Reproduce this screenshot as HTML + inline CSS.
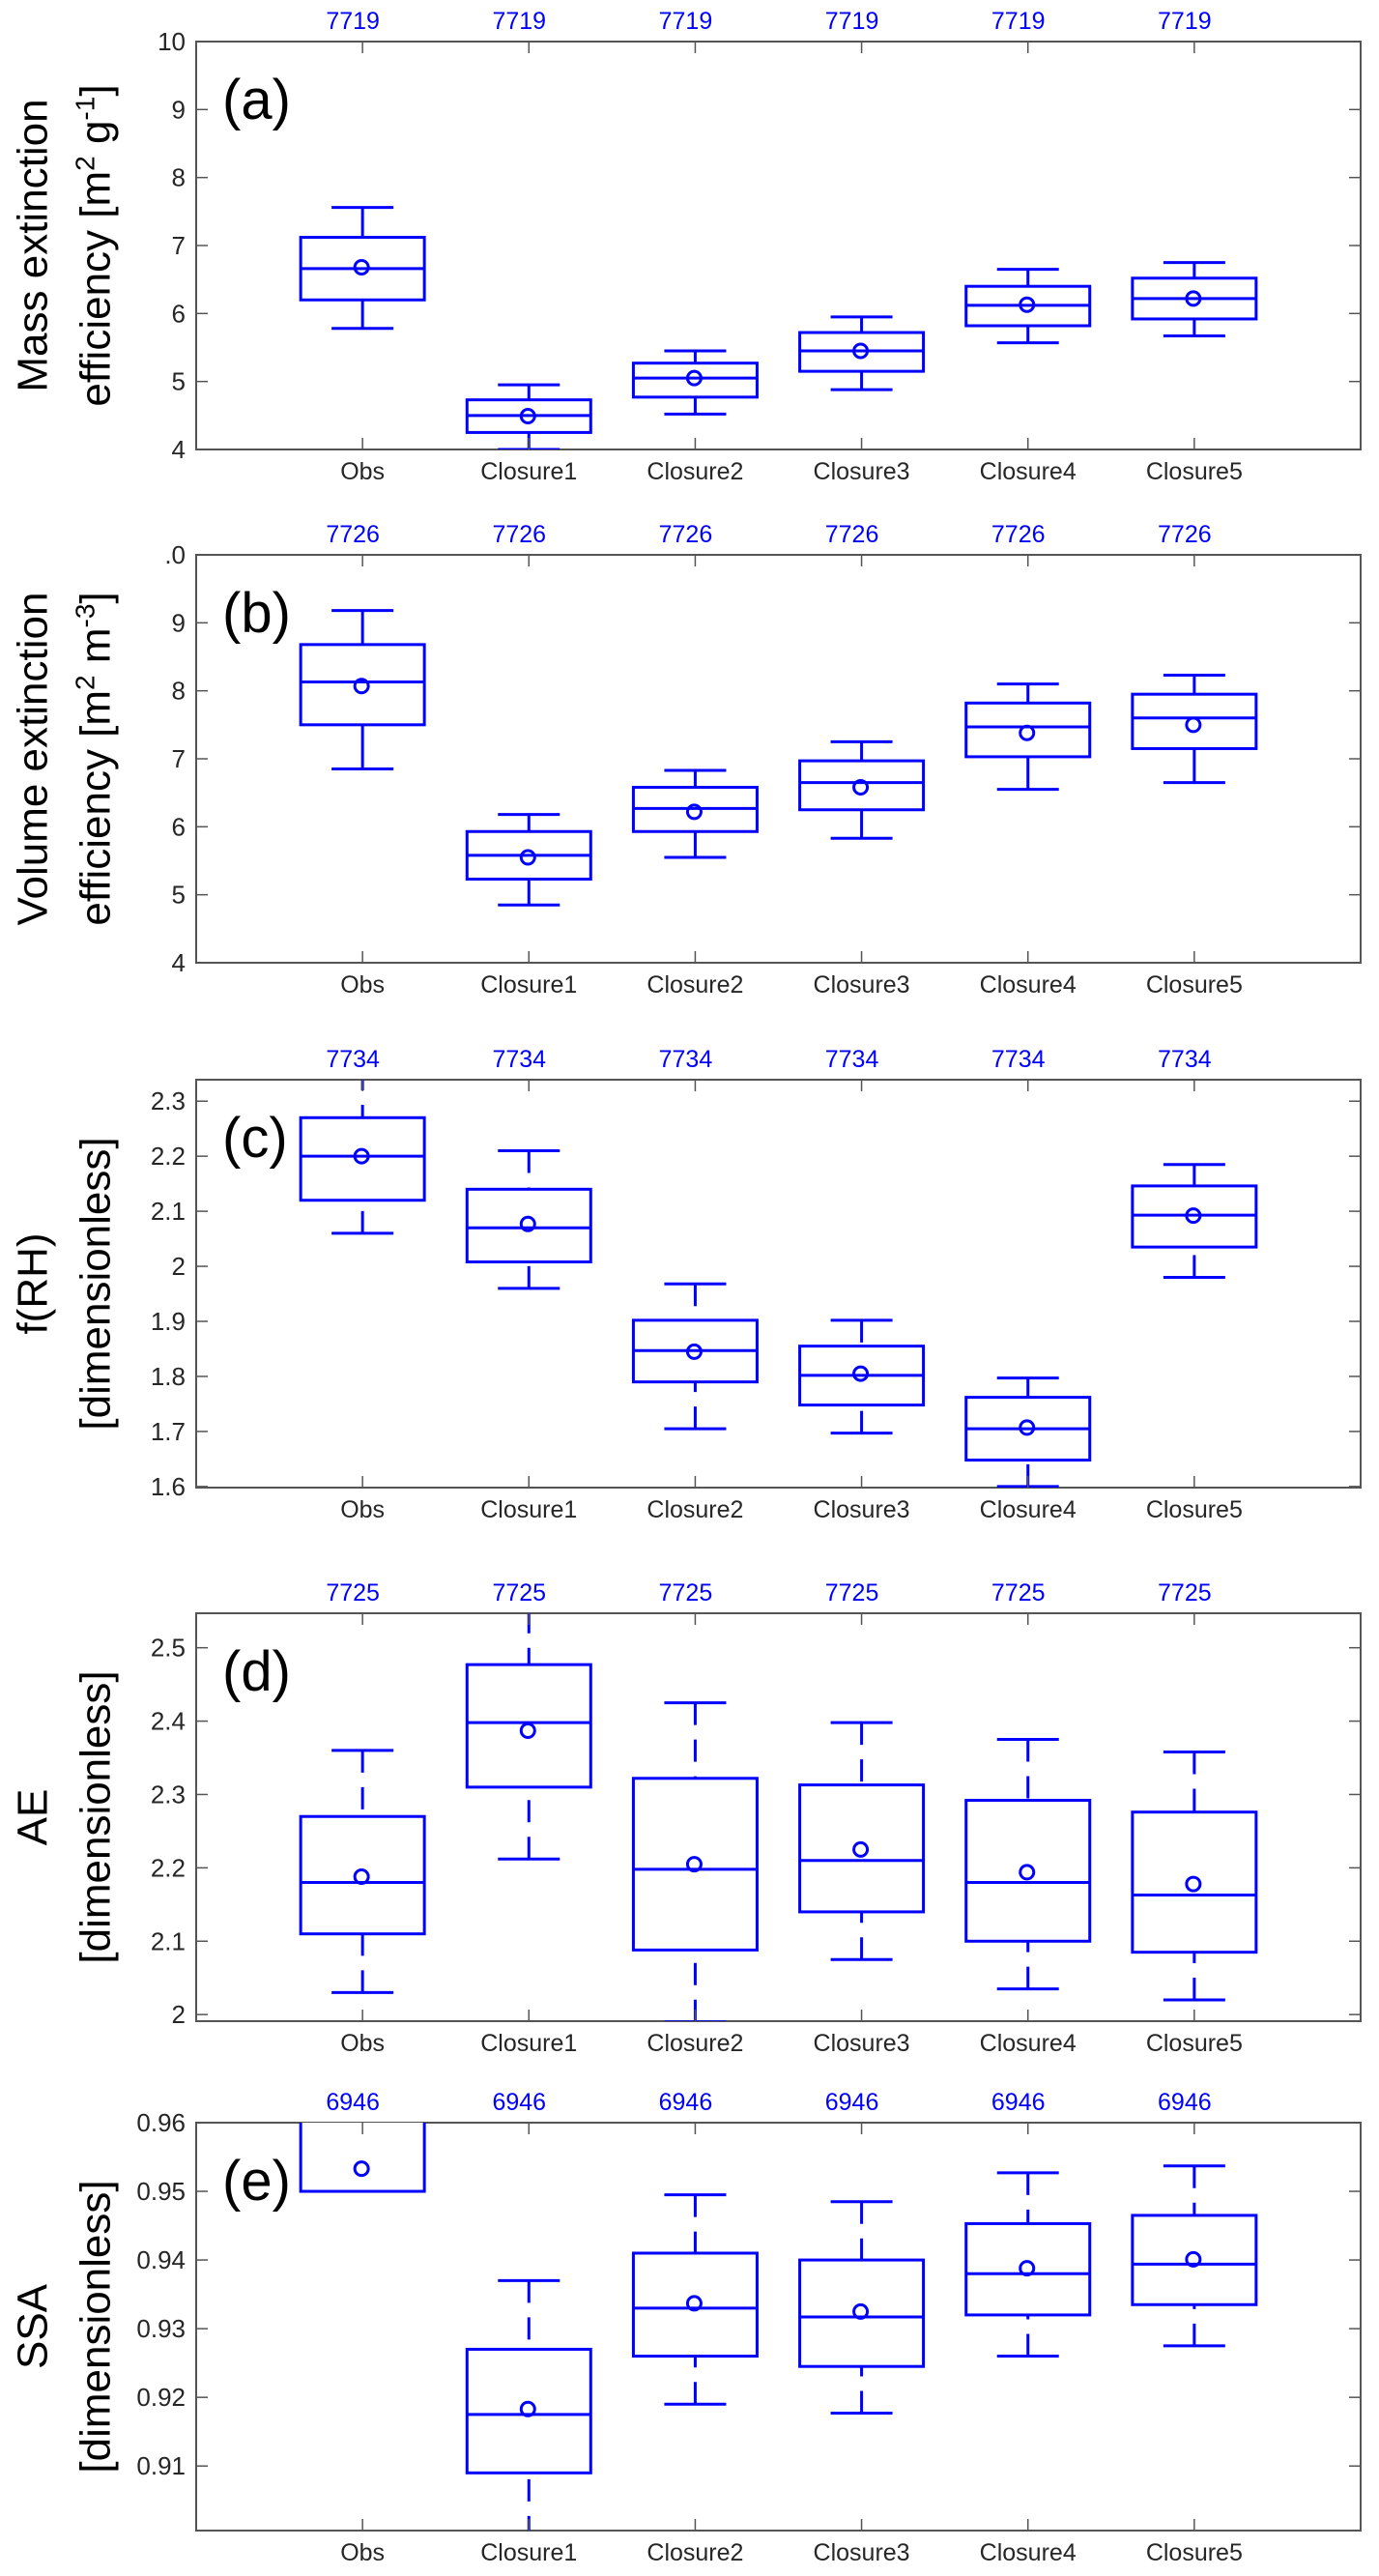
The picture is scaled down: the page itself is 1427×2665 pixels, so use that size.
<!DOCTYPE html>
<html><head><meta charset="utf-8">
<style>
html,body{margin:0;padding:0;background:#fff;}
svg{display:block;}
text{font-family:"Liberation Sans","DejaVu Sans",sans-serif;}
</style></head>
<body>
<svg id="fig" width="1427" height="2665" viewBox="0 0 1427 2665" xmlns="http://www.w3.org/2000/svg"></svg>
<script>
const categories = ["Obs","Closure1","Closure2","Closure3","Closure4","Closure5"];
// panel (a)
const aLo = [5.78,4.0,4.52,4.88,5.57,5.67];
const aQ1 = [6.2,4.25,4.77,5.15,5.82,5.92];
const aMed = [6.66,4.5,5.05,5.45,6.12,6.22];
const aQ3 = [7.12,4.73,5.27,5.72,6.4,6.52];
const aHi = [7.56,4.95,5.45,5.95,6.65,6.75];
const aMean = [6.68,4.49,5.05,5.45,6.13,6.22];
const aCount = [7719,7719,7719,7719,7719,7719];
const aTicks = [4,5,6,7,8,9,10];
const aTickLabels = ["4","5","6","7","8","9","10"];
// panel (b)
const bLo = [6.85,4.85,5.55,5.83,6.55,6.65];
const bQ1 = [7.5,5.23,5.93,6.25,7.03,7.15];
const bMed = [8.13,5.58,6.27,6.65,7.47,7.6];
const bQ3 = [8.68,5.93,6.58,6.97,7.82,7.95];
const bHi = [9.18,6.18,6.83,7.25,8.1,8.23];
const bMean = [8.07,5.55,6.22,6.58,7.38,7.5];
const bCount = [7726,7726,7726,7726,7726,7726];
const bTicks = [4,5,6,7,8,9,10];
const bTickLabels = ["4","5","6","7","8","9",".0"];
// panel (c)
const cLo = [2.06,1.96,1.705,1.697,1.6,1.98];
const cQ1 = [2.12,2.008,1.79,1.748,1.648,2.035];
const cMed = [2.2,2.07,1.847,1.802,1.705,2.093];
const cQ3 = [2.27,2.14,1.902,1.855,1.762,2.146];
const cHi = [2.36,2.21,1.968,1.902,1.797,2.185];
const cMean = [2.2,2.077,1.845,1.805,1.707,2.092];
const cCount = [7734,7734,7734,7734,7734,7734];
const cTicks = [1.6,1.7,1.8,1.9,2.0,2.1,2.2,2.3];
const cTickLabels = ["1.6","1.7","1.8","1.9","2","2.1","2.2","2.3"];
// panel (d)
const dLo = [2.03,2.212,1.99,2.075,2.035,2.02];
const dQ1 = [2.11,2.31,2.088,2.14,2.1,2.085];
const dMed = [2.18,2.398,2.198,2.21,2.18,2.163];
const dQ3 = [2.27,2.477,2.322,2.313,2.292,2.276];
const dHi = [2.36,2.55,2.425,2.398,2.375,2.358];
const dMean = [2.188,2.387,2.205,2.225,2.194,2.178];
const dCount = [7725,7725,7725,7725,7725,7725];
const dTicks = [2.0,2.1,2.2,2.3,2.4,2.5];
const dTickLabels = ["2","2.1","2.2","2.3","2.4","2.5"];
// panel (e)
const eLo = [0.95,0.8995,0.919,0.9177,0.926,0.9275];
const eQ1 = [0.95,0.909,0.926,0.9245,0.932,0.9335];
const eMed = [0.962,0.9175,0.933,0.9317,0.938,0.9394];
const eQ3 = [0.966,0.927,0.941,0.940,0.9453,0.9465];
const eHi = [0.97,0.937,0.9495,0.9485,0.9527,0.9537];
const eMean = [0.9533,0.9183,0.9337,0.9325,0.9388,0.9401];
const eCount = [6946,6946,6946,6946,6946,6946];
const eTicks = [0.91,0.92,0.93,0.94,0.95,0.96];
const eTickLabels = ["0.91","0.92","0.93","0.94","0.95","0.96"];

const NS = "http://www.w3.org/2000/svg";
const svg = document.getElementById('fig');
const X0 = 203, X1 = 1408, PH = 422;
function el(tag, attrs, parent){
  const e = document.createElementNS(NS, tag);
  for (const k in attrs) e.setAttribute(k, attrs[k]);
  (parent||svg).appendChild(e);
  return e;
}
function xScale(i){ return X0 + (i+1)*(X1-X0)/7; }

const panels = [
  {id:'a', top:43, ymin:4, ymax:10, lo:aLo,q1:aQ1,med:aMed,q3:aQ3,hi:aHi,mean:aMean,count:aCount,ticks:aTicks,tl:aTickLabels,label:['Mass extinction','efficiency [m','2',' g','-1',']'],dash:'none'},
  {id:'b', top:574, ymin:4, ymax:10, lo:bLo,q1:bQ1,med:bMed,q3:bQ3,hi:bHi,mean:bMean,count:bCount,ticks:bTicks,tl:bTickLabels,label:['Volume extinction','efficiency [m','2',' m','-3',']'],dash:'none'},
  {id:'c', top:1117, ymin:1.598, ymax:2.339, lo:cLo,q1:cQ1,med:cMed,q3:cQ3,hi:cHi,mean:cMean,count:cCount,ticks:cTicks,tl:cTickLabels,label:['f(RH)','[dimensionless]'],dash:'23 15'},
  {id:'d', top:1669, ymin:1.991, ymax:2.547, lo:dLo,q1:dQ1,med:dMed,q3:dQ3,hi:dHi,mean:dMean,count:dCount,ticks:dTicks,tl:dTickLabels,label:['AE','[dimensionless]'],dash:'23 15'},
  {id:'e', top:2196, ymin:0.9006, ymax:0.96, lo:eLo,q1:eQ1,med:eMed,q3:eQ3,hi:eHi,mean:eMean,count:eCount,ticks:eTicks,tl:eTickLabels,label:['SSA','[dimensionless]'],dash:'23 15'}
];

panels.forEach(p => {
  const g = el('g', {});
  
  
  const top = p.top, bot = p.top + PH;
  const y = v => bot - (v - p.ymin) / (p.ymax - p.ymin) * PH;
  const clipId = 'clip' + p.id;
  const cp = el('clipPath', {id: clipId}, g);
  el('rect', {x: X0, y: top, width: X1-X0, height: PH}, cp);

  // axes frame
  const frame = el('rect', {x:X0, y:top, width:X1-X0, height:PH, fill:'none', stroke:'#555', 'stroke-width':2}, g);
  
  

  // y ticks
  p.ticks.forEach((t, i) => {
    const yy = y(t);
    el('line', {x1:X0, x2:X0+12, y1:yy, y2:yy, stroke:'#555', 'stroke-width':1.5}, g);
    el('line', {x1:X1-12, x2:X1, y1:yy, y2:yy, stroke:'#555', 'stroke-width':1.5}, g);
    const tx = el('text', {x:192, y:yy+9, 'text-anchor':'end', 'font-size':26, fill:'#262626'}, g);
    tx.textContent = p.tl[i];
    
    
  });

  // y label
  const lx = [33, 98];
  const cy = top + PH/2;
  if (p.label.length === 2) {
    p.label.forEach((s, i) => {
      const t = el('text', {x:lx[i], y:cy, 'text-anchor':'middle', 'font-size':44, fill:'#000', transform:`rotate(-90 ${lx[i]} ${cy})`, dy:'0.35em'}, g);
      t.textContent = s;
      
      
    });
  } else {
    const t1 = el('text', {x:lx[0], y:cy, 'text-anchor':'middle', 'font-size':44, fill:'#000', transform:`rotate(-90 ${lx[0]} ${cy})`, dy:'0.35em'}, g);
    t1.textContent = p.label[0];
    
    
    const t2 = el('text', {x:lx[1], y:cy, 'text-anchor':'middle', 'font-size':44, fill:'#000', transform:`rotate(-90 ${lx[1]} ${cy})`, dy:'0.35em'}, g);
    
    
    const s0 = document.createElementNS(NS,'tspan'); s0.textContent = p.label[1]; t2.appendChild(s0);
    const s1 = document.createElementNS(NS,'tspan'); s1.setAttribute('font-size','28'); s1.setAttribute('dy','-16'); s1.textContent = p.label[2]; t2.appendChild(s1);
    const s2 = document.createElementNS(NS,'tspan'); s2.setAttribute('dy','16'); s2.textContent = p.label[3]; t2.appendChild(s2);
    const s3 = document.createElementNS(NS,'tspan'); s3.setAttribute('font-size','28'); s3.setAttribute('dy','-16'); s3.textContent = p.label[4]; t2.appendChild(s3);
    const s4 = document.createElementNS(NS,'tspan'); s4.setAttribute('dy','16'); s4.textContent = p.label[5]; t2.appendChild(s4);
  }

  // panel letter
  const pl = el('text', {x:230, y:top+80, 'font-size':58, fill:'#000'}, g);
  pl.textContent = '(' + p.id + ')';
  
  

  const marks = el('g', {'clip-path': `url(#${clipId})`, stroke:'#0000ff', 'stroke-width':3, fill:'none'}, g);
  categories.forEach((c, i) => {
    const cx = xScale(i);
    // x ticks
    el('line', {x1:cx, x2:cx, y1:bot, y2:bot-12, stroke:'#555', 'stroke-width':1.5}, g);
    el('line', {x1:cx, x2:cx, y1:top, y2:top+12, stroke:'#555', 'stroke-width':1.5}, g);
    const xl = el('text', {x:cx, y:bot+31, 'text-anchor':'middle', 'font-size':25, fill:'#262626'}, g);
    xl.textContent = c;
    
    
    const ct = el('text', {x:cx-10, y:top-13, 'text-anchor':'middle', 'font-size':25, fill:'#0000ff'}, g);
    ct.textContent = p.count[i];
    
    

    const bx = el('g', {}, marks);
    
    
    const dash = p.dash === 'none' ? {} : {'stroke-dasharray': p.dash};
    // whiskers drawn from end toward box
    el('line', Object.assign({x1:cx, x2:cx, y1:y(p.hi[i]), y2:y(p.q3[i])}, dash), bx);
    el('line', Object.assign({x1:cx, x2:cx, y1:y(p.lo[i]), y2:y(p.q1[i])}, dash), bx);
    el('line', {x1:cx-32, x2:cx+32, y1:y(p.hi[i]), y2:y(p.hi[i])}, bx);
    el('line', {x1:cx-32, x2:cx+32, y1:y(p.lo[i]), y2:y(p.lo[i])}, bx);
    el('rect', {x:cx-64, y:y(p.q3[i]), width:128, height:y(p.q1[i])-y(p.q3[i]), fill:'#fff'}, bx);
    el('line', {x1:cx-64, x2:cx+64, y1:y(p.med[i]), y2:y(p.med[i])}, bx);
    el('circle', {cx:cx-1, cy:y(p.mean[i]), r:7}, bx);
  });
});
</script>
</body></html>
